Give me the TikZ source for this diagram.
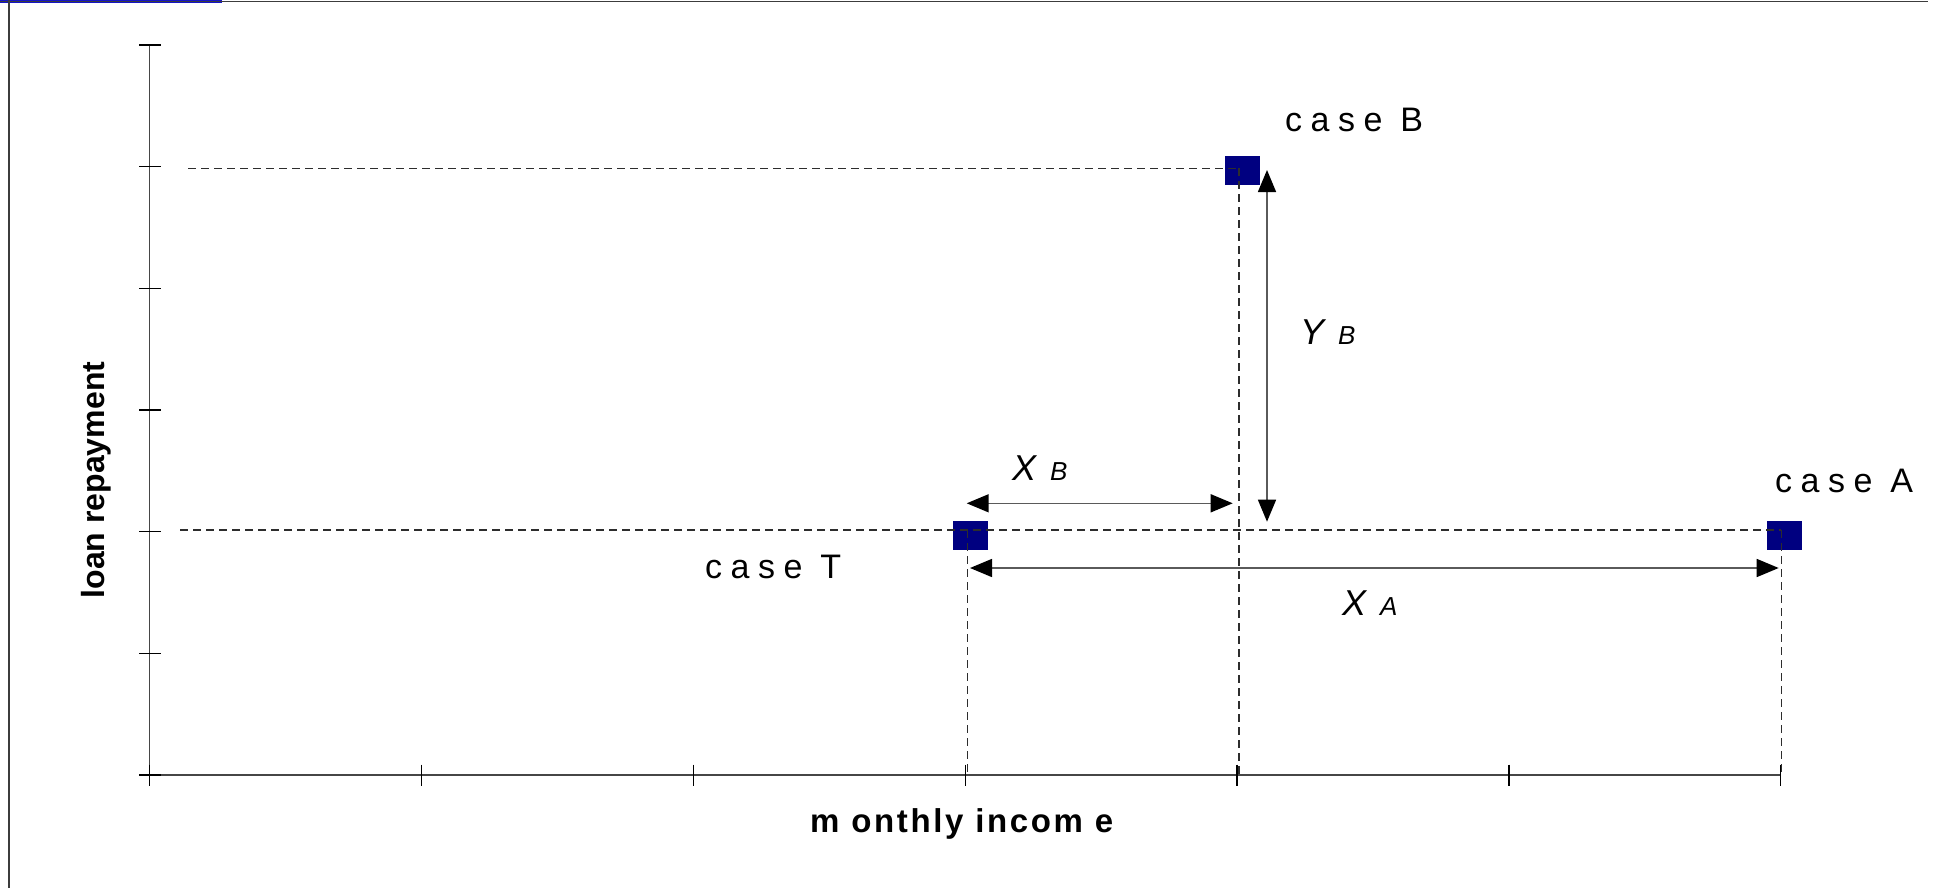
\documentclass[tikz,border=0pt]{standalone}
\usepackage{fontspec}
\setmainfont{Liberation Sans}
\usetikzlibrary{arrows.meta}
\definecolor{navy}{RGB}{0,0,128}
\definecolor{guidegray}{RGB}{45,45,45}
\definecolor{shaftgray}{RGB}{90,90,90}
\definecolor{axisgray}{RGB}{70,70,70}
\definecolor{framegray}{RGB}{60,60,60}
\definecolor{barblue}{RGB}{20,20,200}
\newcommand{\mysubsize}{\fontsize{26}{30}\selectfont}
\begin{document}
\begin{tikzpicture}[x=1pt,y=-1pt,
  marker/.style={rectangle,fill=navy,draw=none,minimum width=35pt,minimum height=29pt,inner sep=0pt},
  guide/.style={draw=guidegray,line width=1.5pt,dash pattern=on 8pt off 5pt},
  dimarrow/.style={draw=shaftgray,line width=1.5pt,
    {Triangle[length=22pt,width=18pt,color=black]}-{Triangle[length=22pt,width=18pt,color=black]}},
  axisline/.style={draw=axisgray,line width=1.5pt},
  tick/.style={draw=black,line width=1.3pt},
  caselbl/.style={font=\fontsize{34}{40}\selectfont\addfontfeature{LetterSpace=25},inner sep=0pt,anchor=base west},
  varlbl/.style={font=\fontsize{36}{42}\selectfont\itshape,inner sep=0pt,anchor=base west},
  axislbl/.style={font=\fontsize{32}{38}\selectfont\bfseries,inner sep=0pt},
]
\useasboundingbox (0,0) rectangle (1939,888);
% frame
\fill[barblue] (0,0) rectangle (222,3);
\draw[framegray,line width=1.6pt] (0,1.5) -- (1928,1.5);
\draw[framegray,line width=1.6pt] (9,0) -- (9,888);
% axes
\coordinate (o) at (149.7,775);
\coordinate (ytop) at (149.7,45);
\coordinate (xend) at (1780.7,775);
\draw[axisline] (ytop) -- (o) -- (xend);
\foreach \i in {0,...,6}{
  \draw[tick] (139,{45+\i*121.67}) -- (160.5,{45+\i*121.67});
  \draw[tick] ({149.7+\i*271.83},764.5) -- ({149.7+\i*271.83},785.5);
}
% markers
\node[marker] (T) at (970.5,535.3) {};
\node[marker] (B) at (1242.5,170.3) {};
\node[marker] (A) at (1784.3,535.3) {};
% guide lines
\coordinate (gB) at (1239,168.3);
\coordinate (gT) at (967.3,530);
\coordinate (gA) at (1781.3,530);
\coordinate (hB0) at (188,168.3);
\coordinate (hT0) at (180,530);
\coordinate (vT1) at (967.3,775);
\coordinate (vB1) at (1239,775);
\coordinate (vA1) at (1781.3,775);
\draw[guide] (hB0) -- (gB);
\draw[guide] (hT0) -- (gA);
\draw[guide] (gT) -- (vT1);
\draw[guide] (gB) -- (vB1);
\draw[guide] (gA) -- (vA1);
% dimension arrows
\coordinate (yb0) at (1267,170);
\coordinate (yb1) at (1267,521.7);
\coordinate (xb0) at (966.7,503.3);
\coordinate (xb1) at (1232.7,503.3);
\coordinate (xa0) at (970,568);
\coordinate (xa1) at (1778.7,568);
\draw[dimarrow] (yb0) -- (yb1);
\draw[dimarrow] (xb0) -- (xb1);
\draw[dimarrow] (xa0) -- (xa1);
% labels
\node[caselbl] (lB) at (1285,132) {case B};
\node[caselbl] (lA) at (1775,492) {case A};
\node[caselbl] (lT) at (705,578) {case T};
\node[varlbl] (lYB) at (1300,344) {Y\hspace{14pt}{\mysubsize B}};
\node[varlbl] (lXB) at (1012,480) {X\hspace{14pt}{\mysubsize B}};
\node[varlbl] (lXA) at (1342,615) {X\hspace{14pt}{\mysubsize A}};
\node[axislbl,rotate=90,anchor=base] (ly) at (104,480) {loan repayment};
\node[axislbl,anchor=base west,font=\fontsize{33}{38}\selectfont\bfseries\addfontfeature{LetterSpace=8}] (lx) at (810,832) {m onthly incom e};
\end{tikzpicture}
\end{document}
